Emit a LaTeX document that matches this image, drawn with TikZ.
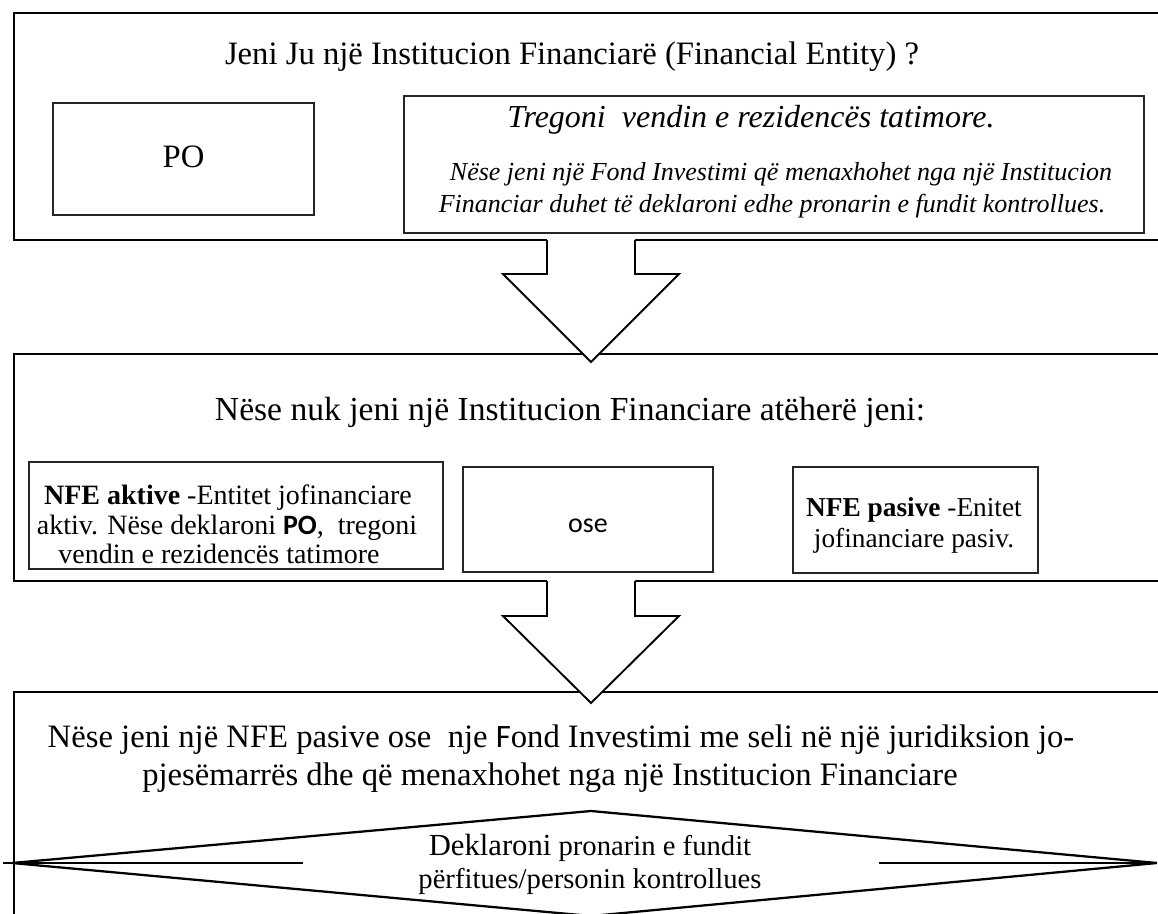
\documentclass[tikz,border=0pt]{standalone}
\usepackage{fontspec}
\setmainfont{Liberation Serif}
\newfontfamily\calib{Carlito}
\usetikzlibrary{positioning}

\begin{document}
\begin{tikzpicture}[x=0.75pt,y=0.75pt,yscale=-1,xscale=1,
	outerbox/.style={line width=1.6pt},
	innerbox/.style={line width=1.2pt, draw=black!85},
	blockarrow/.style={line width=1.4pt, line join=miter},
	rhombline/.style={line width=1.7pt},
	bigtext/.style={anchor=base, font=\fontsize{24.5}{29}\selectfont},
	midtext/.style={anchor=base, font=\fontsize{20.5}{24}\selectfont},
	smalltext/.style={anchor=base, font=\fontsize{19.5}{23}\selectfont\itshape}]
	\useasboundingbox (0,0) rectangle (1158,914);
	\clip (0,0) rectangle (1158,914);
	
	%Shape: Rectangle [outer 1]
	\draw [outerbox] (1170,13) -- (14,13) -- (14,240) -- (1170,240) ;
	%Shape: Rectangle [outer 2]
	\draw [outerbox] (1170,354) -- (14,354) -- (14,581) -- (1170,581) ;
	%Shape: Rectangle [outer 3]
	\draw [outerbox] (1170,692) -- (14,692) -- (14,930) ;
	
	%Shape: Rectangle [PO]
	\draw [innerbox] (53,103) -- (314,103) -- (314,215) -- (53,215) -- cycle ;
	%Shape: Rectangle [residence]
	\draw [innerbox] (404,96) -- (1144,96) -- (1144,233) -- (404,233) -- cycle ;
	%Shape: Rectangle [active]
	\draw [innerbox] (29,462) -- (443,462) -- (443,569) -- (29,569) -- cycle ;
	%Shape: Rectangle [or]
	\draw [innerbox] (463,467) -- (713,467) -- (713,572) -- (463,572) -- cycle ;
	%Shape: Rectangle [passive]
	\draw [innerbox] (793,467) -- (1038,467) -- (1038,573) -- (793,573) -- cycle ;
	
	%Shape: Down Arrow [first]
	\fill [white] (547,236.5) -- (547,274) -- (503,274) -- (591,362) -- (679,274) -- (635,274) -- (635,236.5) -- cycle ;
	\draw [blockarrow] (547,240) -- (547,274) -- (503,274) -- (591,362) -- (679,274) -- (635,274) -- (635,240) ;
	%Shape: Down Arrow [second]
	\fill [white] (547,578) -- (547,616) -- (503,616) -- (591,703) -- (679,616) -- (635,616) -- (635,578) -- cycle ;
	\draw [blockarrow] (547,581) -- (547,616) -- (503,616) -- (591,703) -- (679,616) -- (635,616) -- (635,581) ;
	
	%Shape: Diamond [declare]
	\draw [rhombline] (12,863) -- (591,811) -- (1157,863) -- (591,916) -- cycle ;
	%Straight Lines [declare left]
	\draw [rhombline] (3,863) -- (303,863) ;
	%Straight Lines [declare right]
	\draw [rhombline] (879,863) -- (1157,863) ;
	
	% Text Node
	\draw (572,64) node (qfin) [bigtext] {Jeni Ju një Institucion Financiarë (Financial Entity) ?};
	% Text Node
	\draw (183.5,167) node (po) [bigtext] {PO};
	% Text Node
	\draw (751,127) node (resid) [bigtext, font=\fontsize{24}{29}\selectfont\itshape] {Tregoni\ \ vendin e rezidencës tatimore.};
	% Text Node
	\draw (781,180) node (fondone) [smalltext] {Nëse jeni një Fond Investimi që menaxhohet nga një Institucion};
	% Text Node
	\draw (772,212) node (fondtwo) [smalltext] {Financiar duhet të deklaroni edhe pronarin e fundit kontrollues.};
	% Text Node
	\draw (570,420) node (qnofin) [bigtext, font=\fontsize{25.2}{29}\selectfont] {Nëse nuk jeni një Institucion Financiare atëherë jeni:};
	% Text Node
	\draw (228,504) node (actone) [midtext, font=\fontsize{21}{24}\selectfont] {\textbf{NFE aktive} -Entitet jofinanciare};
	% Text Node
	\draw (227,534) node (acttwo) [midtext, font=\fontsize{21}{24}\selectfont] {aktiv. Nëse deklaroni {\calib\bfseries PO},\ \ tregoni};
	% Text Node
	\draw (219,563) node (actthree) [midtext, font=\fontsize{21}{24}\selectfont] {vendin e rezidencës tatimore};
	% Text Node
	\draw (588,532) node (or) [midtext, font=\fontsize{21}{24}\calib] {ose};
	% Text Node
	\draw (914,516) node (pasone) [midtext] {\textbf{NFE pasive} -Enitet};
	% Text Node
	\draw (914,547) node (pastwo) [midtext] {jofinanciare pasiv.};
	% Text Node
	\draw (561,747) node (nfeone) [bigtext] {Nëse jeni një NFE pasive ose\ \ nje {\calib F}ond Investimi me seli në një juridiksion jo-};
	% Text Node
	\draw (550,785) node (nfetwo) [bigtext] {pjesëmarrës dhe që menaxhohet nga një Institucion Financiare};
	% Text Node
	\draw (590,855) node (declone) [midtext, font=\fontsize{21.5}{24}\selectfont] {{\fontsize{23}{24}\selectfont Deklaroni} pronarin e fundit};
	% Text Node
	\draw (590,888) node (decltwo) [midtext, font=\fontsize{21.5}{24}\selectfont] {përfitues/personin kontrollues};
	
\end{tikzpicture}
\end{document}
